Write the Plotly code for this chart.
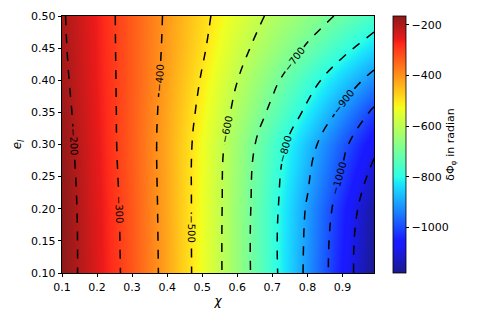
import plotly.graph_objects as go

# grid: spin parameter chi (x) and eccentricity e_l (y)
chi = [0.1, 0.2, 0.3, 0.4, 0.5, 0.6, 0.7, 0.8, 0.9, 0.99]
ecc = [0.1, 0.2, 0.3, 0.35, 0.4, 0.45, 0.5]

# dephasing delta Phi_phi in radian, one row per eccentricity
dphi_e010 = [-165, -244, -328, -424, -533, -652, -779, -917, -1056, -1180]
dphi_e020 = [-165, -247, -331, -426, -533, -651, -778, -908, -1039, -1164]
dphi_e030 = [-173, -253, -337, -427, -530, -642, -756, -869, -981, -1082]
dphi_e035 = [-178, -256, -336, -424, -519, -620, -717, -816, -920, -1015]
dphi_e040 = [-185, -259, -335, -418, -506, -599, -682, -768, -852, -928]
dphi_e045 = [-190, -261, -335, -413, -491, -575, -644, -708, -778, -840]
dphi_e050 = [-193, -262, -335, -410, -483, -552, -614, -663, -712, -760]

z = [dphi_e010, dphi_e020, dphi_e030, dphi_e035, dphi_e040, dphi_e045, dphi_e050]

x_ticks = [0.1, 0.2, 0.3, 0.4, 0.5, 0.6, 0.7, 0.8, 0.9]
y_ticks = [0.10, 0.15, 0.20, 0.25, 0.30, 0.35, 0.40, 0.45, 0.50]
cb_ticks = [-200, -400, -600, -800, -1000]

# matplotlib jet at alpha 0.9 over white
jet = [
    [0.0, "rgb(26,26,140)"],
    [0.11, "rgb(26,26,255)"],
    [0.125, "rgb(26,26,255)"],
    [0.34, "rgb(26,223,255)"],
    [0.35, "rgb(26,232,248)"],
    [0.375, "rgb(44,255,229)"],
    [0.64, "rgb(240,255,33)"],
    [0.65, "rgb(248,247,26)"],
    [0.66, "rgb(255,238,26)"],
    [0.89, "rgb(255,42,26)"],
    [0.91, "rgb(234,26,26)"],
    [1.0, "rgb(140,26,26)"],
]

zmin = min(min(r) for r in z)
zmax = max(max(r) for r in z)

fig = go.Figure()

fig.add_trace(go.Heatmap(
    x=chi, y=ecc, z=z,
    zsmooth="best",
    colorscale=jet, zmin=zmin, zmax=zmax,
    colorbar=dict(
        x=1.06, xanchor="left", xpad=0, y=0.5, yanchor="middle", ypad=0,
        len=1, lenmode="fraction", thickness=13,
        outlinecolor="black", outlinewidth=0.8,
        tickvals=cb_ticks, ticks="outside", ticklen=3.5, tickwidth=0.8,
        tickcolor="black",
        tickfont=dict(size=11, color="black"),
        title=dict(text="δΦ<sub>φ</sub> in radian", side="right",
                   font=dict(size=11, color="black")),
    ),
))

fig.add_trace(go.Contour(
    x=chi, y=ecc, z=z,
    contours=dict(start=-1100, end=-200, size=100, coloring="none",
                  showlabels=True,
                  labelfont=dict(size=10, color="black")),
    line=dict(color="black", width=1.5, dash="dash", smoothing=1.3),
    showscale=False, hoverinfo="skip",
))

axis_common = dict(
    showline=True, linecolor="black", linewidth=0.8, mirror=True,
    ticks="outside", ticklen=3.5, tickwidth=0.8, tickcolor="black",
    showgrid=False, zeroline=False, automargin=False,
    tickfont=dict(size=11, color="black"),
)

# page body adds an 8px offset, so the figure is 8px smaller on each side
fig.update_layout(
    width=477, height=315,
    margin=dict(l=54, r=111, t=8, b=50, autoexpand=False),
    paper_bgcolor="white", plot_bgcolor="white",
    font=dict(family="DejaVu Sans", color="black"),
    xaxis=dict(range=[0.1, 0.99], tickvals=x_ticks, tickformat=".1f",
               title=dict(text="<i>χ</i>", standoff=4, font=dict(size=12)),
               **axis_common),
    yaxis=dict(range=[0.1, 0.5], tickvals=y_ticks, tickformat=".2f",
               title=dict(text="<i>e<sub>l</sub></i>", standoff=6, font=dict(size=12)),
               **axis_common),
)

fig.write_html("out.html")
